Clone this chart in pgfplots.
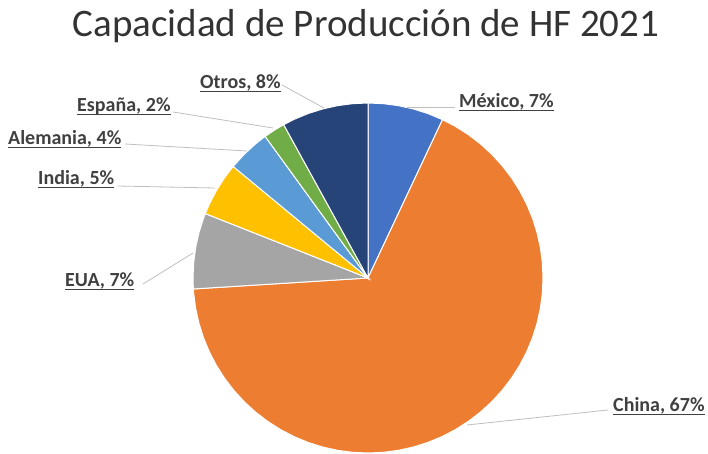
\documentclass[border=0pt]{standalone}
\usepackage{pgfplots}
\pgfplotsset{compat=1.18}
\usepackage{fontspec}
\setmainfont{Carlito}
\definecolor{cMex}{HTML}{4472C4}
\definecolor{cChi}{HTML}{ED7D31}
\definecolor{cEUA}{HTML}{A5A5A5}
\definecolor{cInd}{HTML}{FFC000}
\definecolor{cAle}{HTML}{5B9BD5}
\definecolor{cEsp}{HTML}{70AD47}
\definecolor{cOtr}{HTML}{264478}
\definecolor{lbl}{HTML}{404040}
\definecolor{lead}{HTML}{BFBFBF}
\definecolor{ttl}{HTML}{333333}
\newcommand\ul[1]{\setbox0\hbox{#1}\rlap{\rule[-2.8bp]{\wd0}{1.1bp}}\box0}
\begin{document}
\begin{tikzpicture}
\begin{axis}[x=1bp, y=1bp, hide axis, scale only axis, clip=false,
  xmin=-368, xmax=340, ymin=-176, ymax=278]
% wedges (angle, radius); angles from percentages, clockwise from 90 deg
% Mexico 7%
\addplot[fill=cMex, draw=white, line width=1bp, data cs=polar] coordinates {(0,0) (90,175) (85,175) (80,175) (75,175) (70,175) (64.8,175)} -- cycle;
% China 67%
\addplot[fill=cChi, draw=white, line width=1bp, data cs=polar] coordinates {(0,0) (64.8,175) (60,175) (55,175) (50,175) (45,175) (40,175) (35,175) (30,175) (25,175) (20,175) (15,175) (10,175) (5,175) (0,175) (-5,175) (-10,175) (-15,175) (-20,175) (-25,175) (-30,175) (-35,175) (-40,175) (-45,175) (-50,175) (-55,175) (-60,175) (-65,175) (-70,175) (-75,175) (-80,175) (-85,175) (-90,175) (-95,175) (-100,175) (-105,175) (-110,175) (-115,175) (-120,175) (-125,175) (-130,175) (-135,175) (-140,175) (-145,175) (-150,175) (-155,175) (-160,175) (-165,175) (-170,175) (-175,175) (-176.4,175)} -- cycle;
% EUA 7%
\addplot[fill=cEUA, draw=white, line width=1bp, data cs=polar] coordinates {(0,0) (183.6,175) (180,175) (175,175) (170,175) (165,175) (160,175) (158.4,175)} -- cycle;
% India 5%
\addplot[fill=cInd, draw=white, line width=1bp, data cs=polar] coordinates {(0,0) (158.4,175) (155,175) (150,175) (145,175) (140.4,175)} -- cycle;
% Alemania 4%
\addplot[fill=cAle, draw=white, line width=1bp, data cs=polar] coordinates {(0,0) (140.4,175) (135,175) (130,175) (126,175)} -- cycle;
% Espana 2%
\addplot[fill=cEsp, draw=white, line width=1bp, data cs=polar] coordinates {(0,0) (126,175) (122,175) (118.8,175)} -- cycle;
% Otros 8%
\addplot[fill=cOtr, draw=white, line width=1bp, data cs=polar] coordinates {(0,0) (118.8,175) (115,175) (110,175) (105,175) (100,175) (95,175) (90,175)} -- cycle;
% leader lines
\addplot[lead, line width=0.8bp, no marks] coordinates {(-86,193) (-44,170)};
\addplot[lead, line width=0.8bp, no marks] coordinates {(-195,166) (-95,150)};
\addplot[lead, line width=0.8bp, no marks] coordinates {(-243,134) (-121,127)};
\addplot[lead, line width=0.8bp, no marks] coordinates {(-251,92) (-153,90)};
\addplot[lead, line width=0.8bp, no marks] coordinates {(-225,-6) (-175,25)};
\addplot[lead, line width=0.8bp, no marks] coordinates {(87,171) (39,171)};
\addplot[lead, line width=0.8bp, no marks] coordinates {(240,-132) (99,-147)};
% labels
\begin{scope}[every node/.style={text=lbl, font=\fontsize{20bp}{24bp}\selectfont\bfseries, inner sep=0pt}]
\node[anchor=base west] at (axis cs:-168,189) {\ul{Otros, 8\%}};
\node[anchor=base west] at (axis cs:-291,166) {\ul{España, 2\%}};
\node[anchor=base west] at (axis cs:-360,133) {\ul{Alemania, 4\%}};
\node[anchor=base west] at (axis cs:-330,93) {\ul{India, 5\%}};
\node[anchor=base west] at (axis cs:-303,-9) {\ul{EUA, 7\%}};
\node[anchor=base west] at (axis cs:91,170) {\ul{México, 7\%}};
\node[anchor=base west] at (axis cs:245,-134) {\ul{China, 67\%}};
\end{scope}
\node[anchor=base, inner sep=0pt, text=ttl, font=\fontsize{39bp}{46bp}\selectfont] at (axis cs:-2,241) {Capacidad de Producción de HF 2021};
\end{axis}
\pgfresetboundingbox
\path (current axis.south west) rectangle (current axis.north east);
\end{tikzpicture}
\end{document}
